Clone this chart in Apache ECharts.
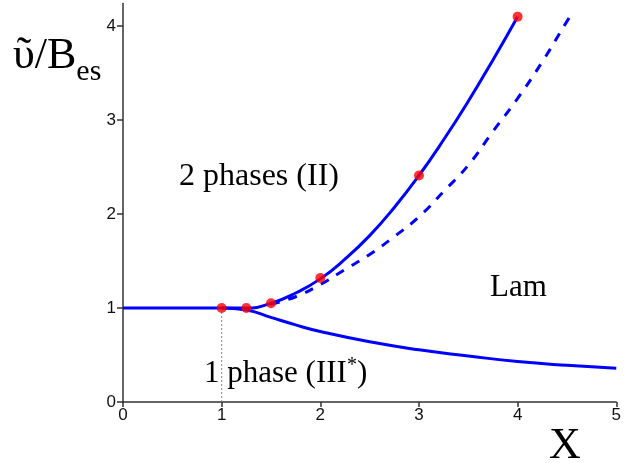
<!DOCTYPE html>
<html><head><meta charset="utf-8">
<script src="https://cdn.jsdelivr.net/npm/echarts@6/dist/echarts.min.js"></script>
<style>html,body{margin:0;padding:0;background:#fff}#c{width:624px;height:463px}</style>
</head><body><div id="c"></div>
<script>
// Data
const xTicks = [0, 1, 2, 3, 4, 5];
const yTicks = [0, 1, 2, 3, 4];
const upperX = [0, 1, 1.25, 1.5, 1.75, 2, 2.25, 2.5, 2.75, 3, 3.25, 3.5, 3.75, 4];
const upperY = [1, 1, 1, 1.05, 1.16, 1.31, 1.52, 1.77, 2.07, 2.41, 2.79, 3.2, 3.64, 4.1];
const dashX = [1.5, 1.75, 2, 2.25, 2.5, 2.75, 3, 3.25, 3.5, 3.75, 4, 4.25, 4.5, 4.56];
const dashY = [1.04, 1.12, 1.25, 1.41, 1.57, 1.76, 1.97, 2.24, 2.52, 2.88, 3.23, 3.62, 4.05, 4.15];
const lowerX = [1, 1.25, 1.5, 1.75, 2, 2.5, 3, 3.5, 4, 4.5, 5];
const lowerY = [1, 0.98, 0.9, 0.82, 0.75, 0.64, 0.555, 0.49, 0.43, 0.39, 0.36];
const dotX = [1, 1.25, 1.5, 2, 3, 4];
const dotY = [1, 1, 1.05, 1.32, 2.41, 4.1];
const guideX = [1, 1];
const guideY = [0, 1];

const zip = (a, b) => a.map((v, i) => [v, b[i]]);
const chart = echarts.init(document.getElementById('c'));
const serif = '"Liberation Serif", "DejaVu Serif", serif';
chart.setOption({
  animation: false,
  grid: { left: 123, right: 5, top: 3.5, bottom: 61 },
  xAxis: {
    type: 'value', min: 0, max: 5, interval: 1,
    axisLine: { onZero: false, lineStyle: { color: '#333', width: 1.5 } },
    axisTick: { length: 5, lineStyle: { color: '#333', width: 1.5 } },
    axisLabel: { color: '#111', fontFamily: '"Liberation Sans", Arial', fontSize: 17, margin: 5 },
    splitLine: { show: false }
  },
  yAxis: {
    type: 'value', min: 0, max: 4.24, interval: 1,
    axisLine: { show: true, lineStyle: { color: '#333', width: 1.5 } },
    axisTick: { show: true, length: 6, lineStyle: { color: '#333', width: 1.5 } },
    axisLabel: { color: '#111', fontFamily: '"Liberation Sans", Arial', fontSize: 17, margin: 7, showMaxLabel: false,
      formatter: v => (yTicks.indexOf(v) >= 0 ? String(v) : '') },
    splitLine: { show: false }
  },
  series: [
    { type: 'line', data: zip(guideX, guideY), symbol: 'none', lineStyle: { color: '#888', width: 1, type: [2, 2] }, z: 1 },
    { type: 'line', data: zip(dashX, dashY), symbol: 'none', smooth: 0.5, lineStyle: { color: '#0000ff', width: 3, type: [9, 9] }, z: 2 },
    { type: 'line', data: zip(upperX, upperY), symbol: 'none', smooth: 0.5, lineStyle: { color: '#0000ff', width: 3 }, z: 3 },
    { type: 'line', data: zip(lowerX, lowerY), symbol: 'none', smooth: 0.5, lineStyle: { color: '#0000ff', width: 3 }, z: 3 },
    { type: 'scatter', data: zip(dotX, dotY), symbol: 'circle', symbolSize: 10, itemStyle: { color: '#ff0000' }, z: 5 }
  ],
  graphic: [
    { type: 'text', left: 13, top: 34, style: {
      text: '{a|ῦ/B}{b|es}', rich: {
        a: { fontFamily: serif, fontSize: 44, fill: '#000', verticalAlign: 'bottom' },
        b: { fontFamily: serif, fontSize: 30, fill: '#000', verticalAlign: 'bottom', padding: [0, 0, -9, 0] }
      } } },
    { type: 'text', left: 549, top: 424, style: { text: 'X', fontFamily: serif, fontSize: 44, fill: '#000' } },
    { type: 'text', left: 179, top: 161, style: { text: '2 phases (II)', fontFamily: serif, fontSize: 32, fill: '#000' } },
    { type: 'text', left: 490, top: 272, style: { text: 'Lam', fontFamily: serif, fontSize: 31, fill: '#000' } },
    { type: 'text', left: 204, top: 356, style: {
      text: '{a|1 phase (III}{b|*}{a|)}', rich: {
        a: { fontFamily: serif, fontSize: 31, fill: '#000' },
        b: { fontFamily: serif, fontSize: 20, fill: '#000', padding: [0, 0, 16, 0] }
      } } }
  ]
});
</script></body></html>
